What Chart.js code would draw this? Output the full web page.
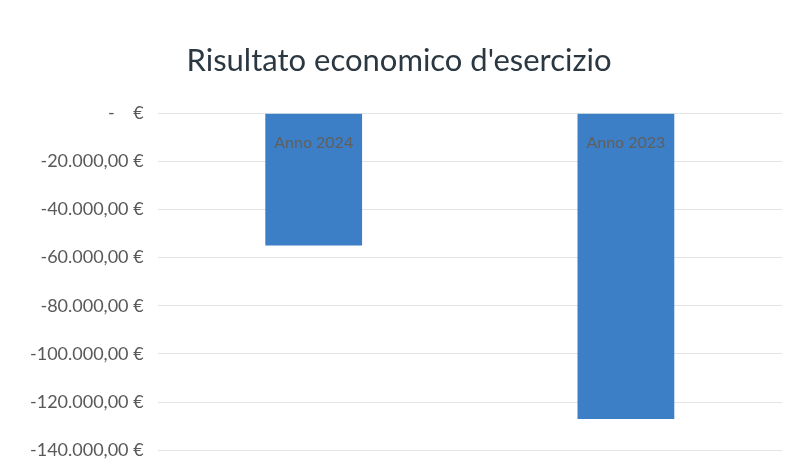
<!DOCTYPE html>
<html>
<head>
<meta charset="utf-8">
<script src="https://cdn.jsdelivr.net/npm/chart.js@4"></script>
<style>
  html, body { margin: 0; padding: 0; background: #fff; }
  #wrap { width: 794px; height: 475px; }
</style>
</head>
<body>
<div id="wrap"><canvas id="chart"></canvas></div>
<script>
// Data
const categories = ['Anno 2024', 'Anno 2023'];
const results = [-55000, -127000];
const yTicks = [0, -20000, -40000, -60000, -80000, -100000, -120000, -140000];

// Format like Excel accounting: "-20.000,00 €", zero shown as "-   €"
function euro(v) {
  if (v === 0) return '-    €';
  const sign = v < 0 ? '-' : '';
  const parts = Math.abs(v).toFixed(2).split('.');
  const intPart = parts[0].replace(/\B(?=(\d{3})+(?!\d))/g, '.');
  return sign + intPart + ',' + parts[1] + ' €';
}

// Category labels sit just under the zero line, over the bars (as in Excel)
const categoryLabels = {
  id: 'categoryLabels',
  afterDatasetsDraw(chart) {
    const x = chart.scales.x, y = chart.scales.y;
    const c = chart.ctx;
    c.save();
    c.fillStyle = '#5f5f5f';
    c.font = '16px Lato';
    c.textAlign = 'center';
    c.textBaseline = 'top';
    categories.forEach((label, i) => {
      c.fillText(label, x.getPixelForValue(i), y.getPixelForValue(0) + 22);
    });
    c.restore();
  }
};

const ctx = document.getElementById('chart').getContext('2d');
new Chart(ctx, {
  type: 'bar',
  data: {
    labels: categories,
    datasets: [{
      label: 'Risultato',
      data: results,
      backgroundColor: '#3d7fc6',
      categoryPercentage: 1,
      barPercentage: 0.31
    }]
  },
  options: {
    responsive: true,
    maintainAspectRatio: false,
    animation: false,
    layout: { padding: { left: 16, right: 12, top: 42, bottom: 10 } },
    plugins: {
      legend: { display: false },
      tooltip: { enabled: false },
      title: {
        display: true,
        text: "Risultato economico d'esercizio",
        color: '#2b3842',
        font: { family: 'Lato', size: 31, weight: 'normal' },
        padding: { top: 0, bottom: 34 }
      }
    },
    scales: {
      x: {
        display: false
      },
      y: {
        min: -140000,
        max: 0,
        afterBuildTicks: (axis) => { axis.ticks = yTicks.map(v => ({ value: v })); },
        grid: { color: '#e4e4e4', lineWidth: 1, drawTicks: false },
        border: { display: false },
        ticks: {
          color: '#595959',
          font: { family: 'Lato', size: 18 },
          padding: 14,
          callback: (v) => euro(v)
        }
      }
    }
  },
  plugins: [categoryLabels]
});
</script>
</body>
</html>
